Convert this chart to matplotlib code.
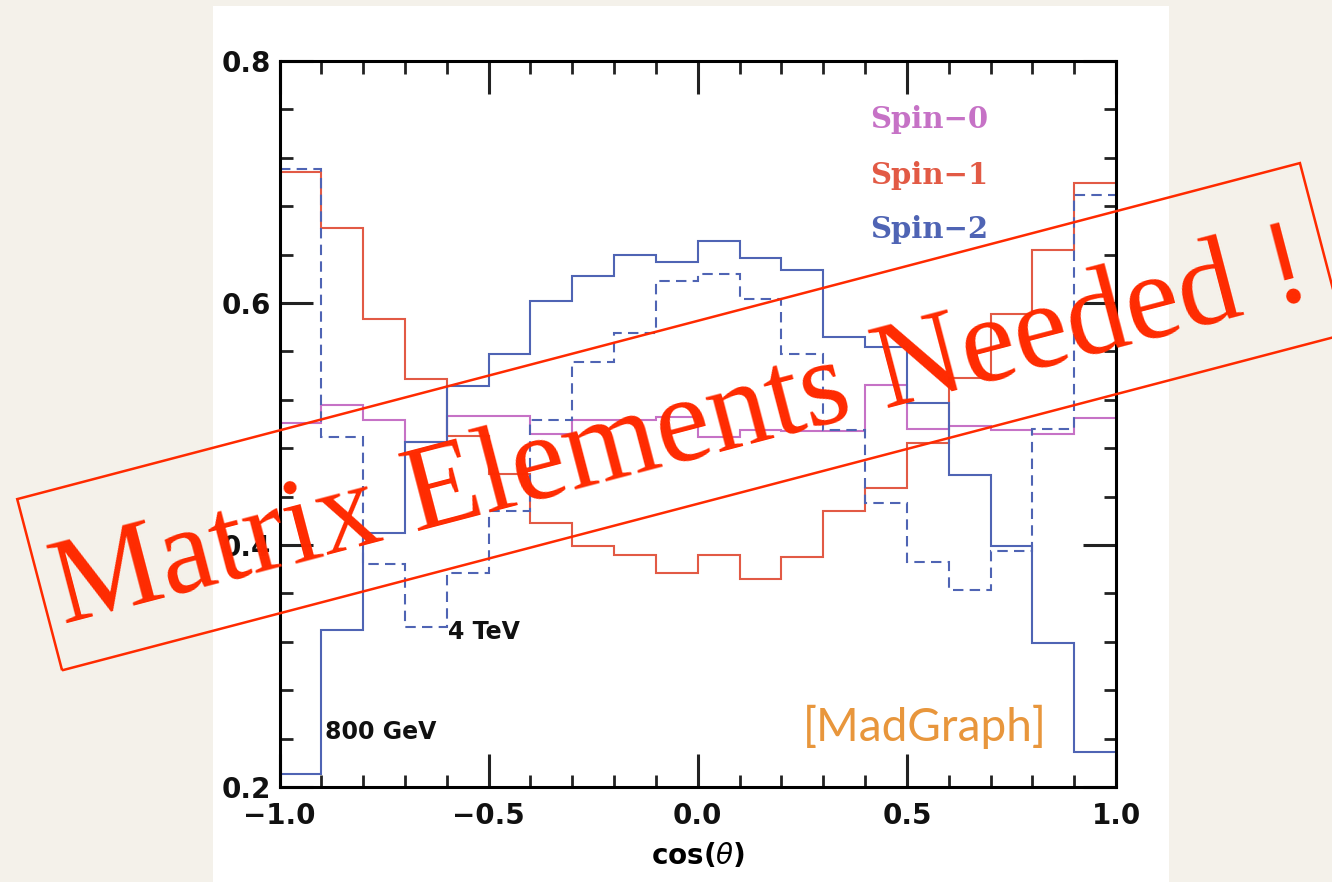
"""
Angular distribution of the decay products for resonances of spin 0, 1 and 2.
"""

import numpy as np
import matplotlib.pyplot as plt
from matplotlib.patches import Rectangle
from matplotlib.transforms import Affine2D, IdentityTransform

# bin edges in cos(theta)
bin_edges = np.round(np.arange(-1.0, 1.01, 0.1), 1)

spin0 = [0.501, 0.516, 0.503, 0.485, 0.507, 0.507, 0.492, 0.503, 0.503, 0.506,
         0.489, 0.495, 0.494, 0.494, 0.532, 0.496, 0.498, 0.495, 0.492, 0.505]
spin1 = [0.708, 0.662, 0.587, 0.537, 0.490, 0.459, 0.418, 0.399, 0.392, 0.377,
         0.392, 0.372, 0.390, 0.428, 0.447, 0.484, 0.538, 0.591, 0.644, 0.699]
spin2_800gev = [0.211, 0.330, 0.410, 0.485, 0.531, 0.558, 0.602, 0.622, 0.640, 0.634,
                0.651, 0.637, 0.627, 0.572, 0.564, 0.517, 0.458, 0.399, 0.319, 0.229]
spin2_4tev = [0.711, 0.489, 0.384, 0.332, 0.377, 0.428, 0.503, 0.551, 0.575, 0.618,
              0.624, 0.603, 0.558, 0.495, 0.435, 0.386, 0.363, 0.395, 0.496, 0.689]

x_ticks = [-1.0, -0.5, 0.0, 0.5, 1.0]
x_tick_labels = ['\u22121.0', '\u22120.5', '0.0', '0.5', '1.0']
y_ticks = [0.2, 0.4, 0.6, 0.8]
y_tick_labels = ['0.2', '0.4', '0.6', '0.8']

legend_labels = ['Spin\u22120', 'Spin\u22121', 'Spin\u22122']

c_spin0 = '#c672c6'
c_spin1 = '#e25a45'
c_spin2 = '#4f64b4'
c_stamp = '#ff2a00'

W, H = 1332, 882
fig = plt.figure(figsize=(W / 100, H / 100), dpi=100)
fig.patch.set_facecolor('#f4f1ea')

# white page behind the plot
fig.add_artist(Rectangle((213 / W, 0), (1169 - 213) / W, (H - 6) / H,
                         transform=fig.transFigure, facecolor='white',
                         edgecolor='none', zorder=0))

ax = fig.add_axes([279.5 / W, (H - 787) / H, (1116 - 279.5) / W, (787 - 61) / H])
ax.set_facecolor('white')

lw = 1.5
ax.stairs(spin0, bin_edges, baseline=None, color=c_spin0, lw=lw)
ax.stairs(spin1, bin_edges, baseline=None, color=c_spin1, lw=lw)
ax.stairs(spin2_800gev, bin_edges, baseline=None, color=c_spin2, lw=lw)
ax.stairs(spin2_4tev, bin_edges, baseline=None, color=c_spin2, lw=lw,
          linestyle=(0, (5, 3)))

ax.set_xlim(-1.0, 1.0)
ax.set_ylim(0.2, 0.8)
ax.set_xticks(x_ticks)
ax.set_xticklabels(x_tick_labels)
ax.set_yticks(y_ticks)
ax.set_yticklabels(y_tick_labels)
ax.set_xticks(np.round(np.arange(-1.0, 1.01, 0.1), 1), minor=True)
ax.set_yticks(np.round(np.arange(0.2, 0.81, 0.04), 2), minor=True)

for s in ax.spines.values():
    s.set_linewidth(2.2)
ax.tick_params(which='both', direction='in', top=True, right=True, colors='#222222')
ax.tick_params(which='major', length=24, width=2.2)
ax.tick_params(which='minor', length=9, width=2.0)
ax.tick_params(axis='x', which='major', pad=11)
ax.tick_params(axis='y', which='major', pad=6)
for lab in ax.get_xticklabels() + ax.get_yticklabels():
    lab.set_fontsize(20)
    lab.set_fontweight('bold')
    lab.set_family('DejaVu Sans')
    lab.set_color('#111111')

ax.set_xlabel(r'cos($\theta$)', fontsize=20, fontweight='bold', labelpad=8)

# legend as coloured labels
for label, col, y in zip(legend_labels, [c_spin0, c_spin1, c_spin2], [120, 175, 230]):
    fig.text(870 / W, (H - y) / H, label, color=col, fontsize=21,
             fontweight='bold', family='DejaVu Serif', ha='left', va='center')

fig.text(448 / W, (H - 632) / H, '4 TeV', fontsize=17, fontweight='bold',
         ha='left', va='center', color='#111111')
fig.text(325 / W, (H - 732) / H, '800 GeV', fontsize=17, fontweight='bold',
         ha='left', va='center', color='#111111')
fig.text(1047 / W, (H - 727) / H, '[MadGraph]', fontsize=33, family='Lato',
         color='#e8963c', ha='right', va='center')

# stamp over the plot
angle = 14.68
cx, cy = 681, H - 416.7
bw, bh = 1326, 177
stamp = Rectangle((cx - bw / 2, cy - bh / 2), bw, bh, fill=False,
                  edgecolor=c_stamp, lw=1.8,
                  transform=Affine2D().rotate_deg_around(cx, cy, angle) + IdentityTransform(),
                  zorder=10)
fig.add_artist(stamp)
fig.text(689, H - 460, 'Matrix Elements Needed !', transform=IdentityTransform(),
         rotation=angle, rotation_mode='anchor', ha='center', va='baseline',
         fontsize=88, family='Liberation Serif', color=c_stamp, zorder=11)

fig.savefig('out.png', dpi=100, facecolor=fig.get_facecolor())
